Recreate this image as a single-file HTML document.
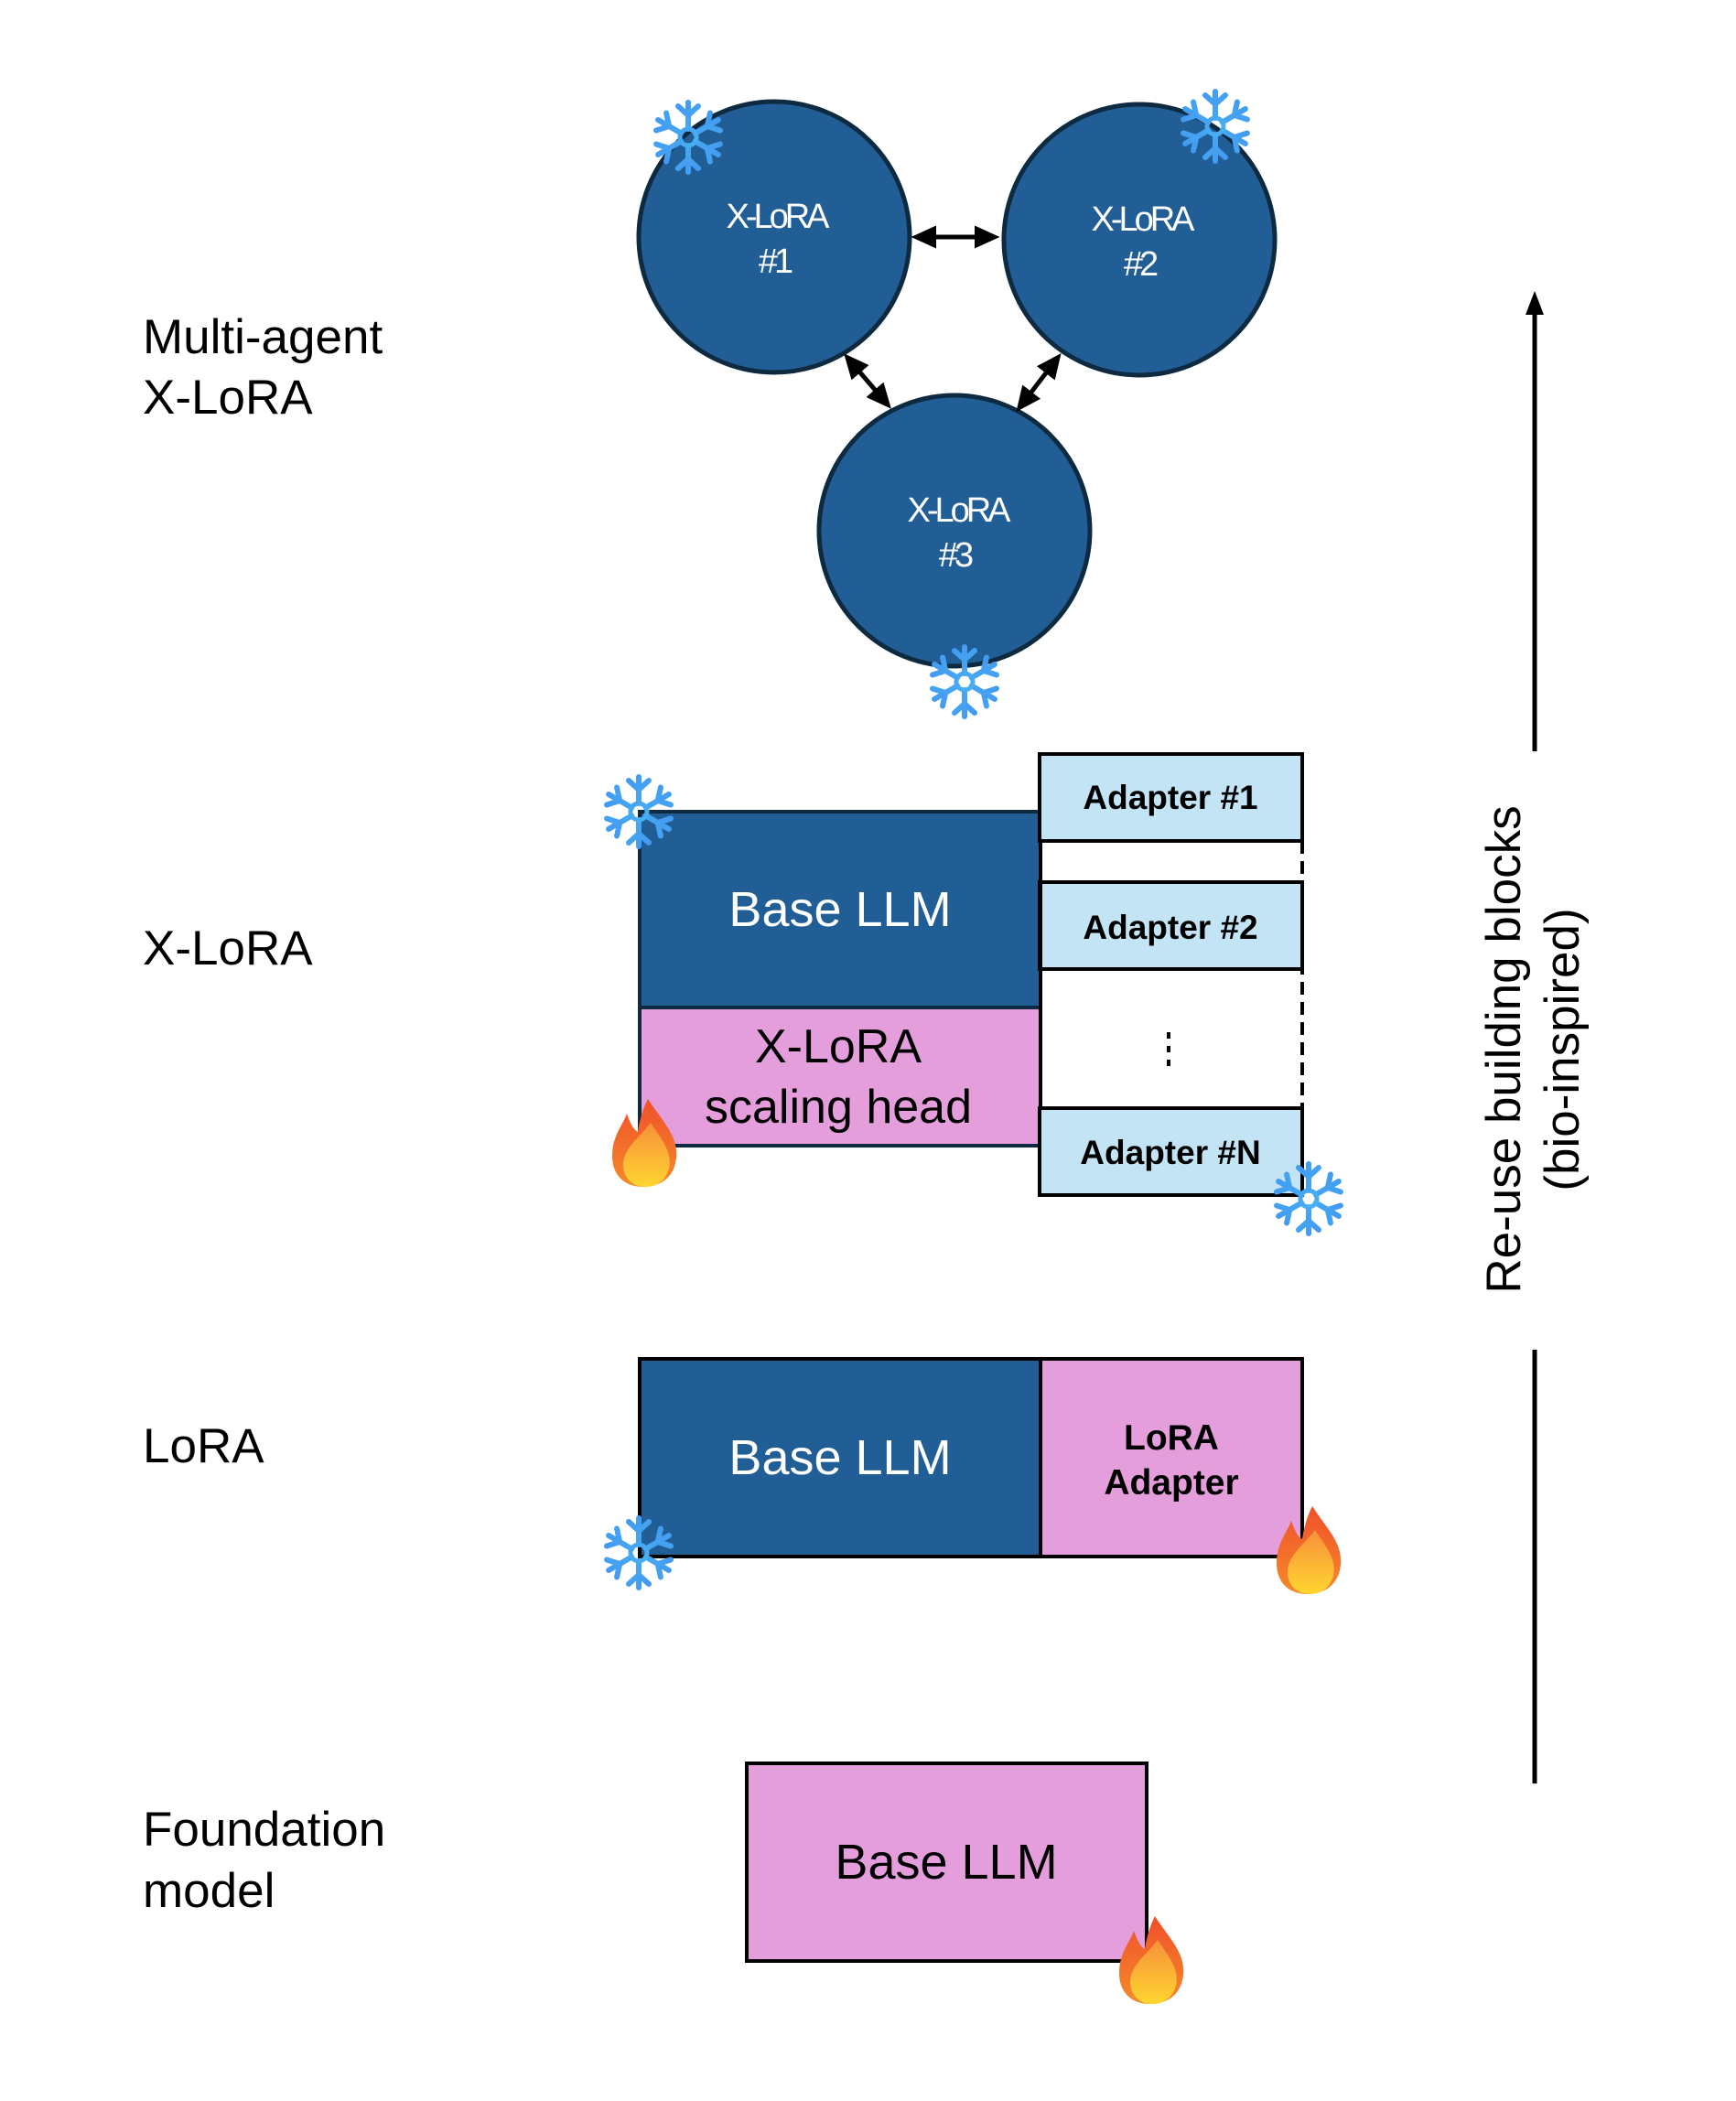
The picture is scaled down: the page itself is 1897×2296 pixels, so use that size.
<!DOCTYPE html>
<html><head><meta charset="utf-8"><style>
html,body{margin:0;padding:0;background:#fff}
svg{display:block}
text{font-family:"Liberation Sans",Arial,sans-serif}
</style></head><body>
<svg width="1897" height="2296" viewBox="0 0 1897 2296" xmlns="http://www.w3.org/2000/svg">
<defs>
<linearGradient id="sg" gradientUnits="userSpaceOnUse" x1="-40" y1="-40" x2="40" y2="40"><stop offset="0" stop-color="#3f8ef0"/><stop offset="1" stop-color="#4fc6f5"/></linearGradient>
<linearGradient id="fg" x1="0" y1="0" x2="0" y2="1"><stop offset="0" stop-color="#f0502a"/><stop offset="1" stop-color="#f58a2a"/></linearGradient>
<linearGradient id="fg2" x1="0" y1="0" x2="0" y2="1"><stop offset="0" stop-color="#f7903a"/><stop offset="1" stop-color="#ffd530"/></linearGradient>
<g id="arm"><line x1="0" y1="-9" x2="0" y2="-38" /><polyline points="-11,-34 0,-24 11,-34" fill="none"/></g>
<g id="snow" stroke="url(#sg)" stroke-width="6" stroke-linecap="round" fill="none">
<use href="#arm"/><use href="#arm" transform="rotate(60)"/><use href="#arm" transform="rotate(120)"/><use href="#arm" transform="rotate(180)"/><use href="#arm" transform="rotate(240)"/><use href="#arm" transform="rotate(300)"/>
<circle r="9" stroke-width="5"/>
</g>
<g id="flame">
<path d="M5,-48 C22,-22 38,-8 36,16 C34,38 18,48 0,48 C-20,48 -34,36 -34,14 C-34,-8 -22,-20 -18,-32 C-14,-20 -10,-14 -6,-12 C-4,-26 0,-38 5,-48Z" fill="url(#fg)"/>
<path d="M8,-22 C20,-4 32,10 28,28 C24,42 14,48 2,48 C-12,48 -22,38 -22,24 C-22,6 -4,-6 8,-22Z" fill="url(#fg2)"/>
</g>
<marker id="ah" markerWidth="5.5" markerHeight="5" refX="4" refY="2.5" orient="auto-start-reverse" markerUnits="strokeWidth"><path d="M0,0 L5.5,2.5 L0,5Z" fill="#000"/></marker>
</defs>
<g transform="translate(3,4)">
<g font-size="53" fill="#000">
<text x="153" y="382">Multi-agent</text><text x="153" y="448">X-LoRA</text>
<text x="153" y="1050">X-LoRA</text>
<text x="153" y="1594">LoRA</text>
<text x="153" y="2013">Foundation</text><text x="153" y="2080">model</text>
</g>

<g fill="#225e96" stroke="#0d2a40" stroke-width="5">
<circle cx="843" cy="255" r="148"/><circle cx="1242" cy="258" r="148"/><circle cx="1040" cy="576" r="148"/>
</g>
<g fill="#fff" font-size="38" text-anchor="middle" letter-spacing="-4">
<text x="845" y="245">X-LoRA</text><text x="843" y="294">#1</text>
<text x="1244" y="248">X-LoRA</text><text x="1242" y="297">#2</text>
<text x="1043" y="566">X-LoRA</text><text x="1040" y="615">#3</text>
</g>
<g stroke="#000" stroke-width="5" marker-start="url(#ah)" marker-end="url(#ah)">
<line x1="1000" y1="255" x2="1082" y2="255"/>
<line x1="924" y1="388" x2="966" y2="437"/>
<line x1="1152" y1="388" x2="1112" y2="440"/>
</g>

<rect x="696" y="883" width="438" height="214" fill="#225e96" stroke="#0d2a40" stroke-width="4"/>
<rect x="696" y="1097" width="438" height="151" fill="#e39edb" stroke="#0d2a40" stroke-width="4"/>
<text x="915" y="1008" font-size="54" fill="#fff" text-anchor="middle">Base LLM</text>
<text x="913" y="1157" font-size="52" fill="#000" text-anchor="middle">X-LoRA</text>
<text x="913" y="1223" font-size="52" fill="#000" text-anchor="middle">scaling head</text>
<line x1="1420" y1="915" x2="1420" y2="1207" stroke="#000" stroke-width="4" stroke-dasharray="14,8"/>
<g fill="#c3e4f4" stroke="#000" stroke-width="4">
<rect x="1133" y="820" width="287" height="95"/>
<rect x="1133" y="960" width="287" height="95"/>
<rect x="1133" y="1207" width="287" height="95"/>
</g>
<line x1="1134" y1="915" x2="1134" y2="1207" stroke="#000" stroke-width="4"/>
<g font-size="37" font-weight="bold" text-anchor="middle" fill="#000">
<text x="1276" y="880">Adapter #1</text>
<text x="1276" y="1022">Adapter #2</text>
<text x="1276" y="1268">Adapter #N</text>
</g>
<g fill="#000"><rect x="1272" y="1124" width="4" height="7"/><rect x="1272" y="1139" width="4" height="7"/><rect x="1272" y="1154" width="4" height="7"/></g>

<rect x="696" y="1481" width="438" height="216" fill="#225e96" stroke="#000" stroke-width="4"/>
<rect x="1134" y="1481" width="286" height="216" fill="#e39edb" stroke="#000" stroke-width="4"/>
<text x="915" y="1607" font-size="54" fill="#fff" text-anchor="middle">Base LLM</text>
<text x="1277" y="1580" font-size="39" font-weight="bold" text-anchor="middle">LoRA</text>
<text x="1277" y="1629" font-size="39" font-weight="bold" text-anchor="middle">Adapter</text>

<rect x="813" y="1923" width="437" height="216" fill="#e39edb" stroke="#000" stroke-width="4"/>
<text x="1031" y="2049" font-size="54" fill="#000" text-anchor="middle">Base LLM</text>

<line x1="1674" y1="1945" x2="1674" y2="1471" stroke="#000" stroke-width="5"/>
<line x1="1674" y1="817" x2="1674" y2="336" stroke="#000" stroke-width="5"/>
<path d="M1674,314 L1664,340 L1684,340Z" fill="#000"/>
<g font-size="53" text-anchor="middle" fill="#000">
<text transform="translate(1658,1143) rotate(-90)">Re-use building blocks</text>
<text transform="translate(1722,1143) rotate(-90)">(bio-inspired)</text>
</g>

<use href="#snow" transform="translate(749,146)"/>
<use href="#snow" transform="translate(1325,134)"/>
<use href="#snow" transform="translate(1051,741)"/>
<use href="#snow" transform="translate(695,883)"/>
<use href="#snow" transform="translate(1427,1306)"/>
<use href="#snow" transform="translate(695,1693)"/>
<use href="#flame" transform="translate(700,1245)"/>
<use href="#flame" transform="translate(1426,1690)"/>
<use href="#flame" transform="translate(1254,2138)"/>
</g>
</svg>
</body></html>
